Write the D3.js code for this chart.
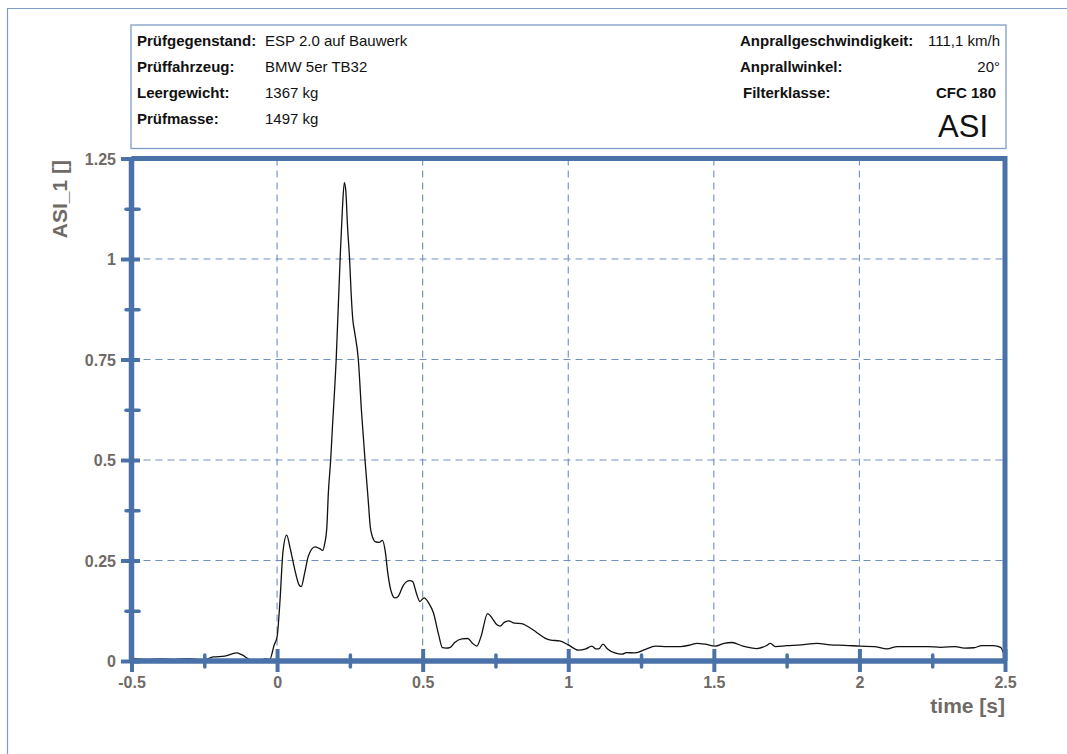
<!DOCTYPE html>
<html>
<head>
<meta charset="utf-8">
<script src="https://cdn.jsdelivr.net/npm/d3@7"></script>
<style>
  html, body { margin: 0; padding: 0; background: #fff; }
  svg { display: block; }
  text { font-family: Arial, "Liberation Sans", sans-serif; }
</style>
</head>
<body>
<script>
// ---------- data ----------
const timeS = [-0.5,-0.49,-0.45,-0.4,-0.35,-0.3,-0.27,-0.25,-0.22,-0.18,-0.14,-0.12,-0.09,-0.06,-0.04,-0.025,-0.01,0.0,0.01,0.02,0.033,0.045,0.06,0.075,0.083,0.095,0.107,0.13,0.145,0.157,0.163,0.171,0.176,0.184,0.19,0.203,0.2165,0.224,0.231,0.236,0.242,0.249,0.254,0.26,0.266,0.279,0.29,0.302,0.313,0.32,0.327,0.337,0.35,0.362,0.372,0.38,0.394,0.405,0.415,0.434,0.455,0.465,0.48,0.49,0.505,0.52,0.537,0.555,0.568,0.58,0.595,0.61,0.635,0.655,0.67,0.686,0.70,0.723,0.74,0.755,0.766,0.78,0.795,0.815,0.84,0.858,0.88,0.905,0.92,0.94,0.97,1.0,1.035,1.06,1.081,1.095,1.105,1.119,1.135,1.16,1.185,1.2,1.23,1.265,1.299,1.34,1.385,1.42,1.442,1.47,1.505,1.535,1.562,1.6,1.648,1.68,1.694,1.711,1.75,1.8,1.855,1.9,1.95,2.003,2.05,2.095,2.13,2.18,2.233,2.28,2.33,2.36,2.393,2.42,2.46,2.485,2.5];
const asiValues = [0.02,0.006,0.004,0.005,0.004,0.006,0.004,0.003,0.01,0.012,0.02,0.015,0.003,0.002,0.005,0.004,0.04,0.06,0.15,0.27,0.313,0.28,0.23,0.19,0.185,0.22,0.26,0.284,0.28,0.275,0.29,0.334,0.417,0.5,0.58,0.75,1.0,1.12,1.19,1.17,1.08,1.0,0.92,0.85,0.82,0.75,0.62,0.5,0.4,0.334,0.31,0.297,0.295,0.30,0.27,0.22,0.168,0.157,0.16,0.189,0.2,0.198,0.165,0.148,0.157,0.145,0.12,0.065,0.033,0.032,0.034,0.046,0.055,0.056,0.045,0.037,0.06,0.118,0.105,0.09,0.087,0.096,0.10,0.094,0.093,0.087,0.077,0.064,0.057,0.052,0.05,0.04,0.027,0.03,0.037,0.03,0.03,0.042,0.03,0.02,0.017,0.021,0.02,0.029,0.037,0.036,0.036,0.04,0.044,0.042,0.037,0.044,0.046,0.037,0.031,0.038,0.044,0.036,0.038,0.04,0.044,0.04,0.039,0.037,0.036,0.03,0.036,0.036,0.036,0.034,0.036,0.032,0.033,0.038,0.038,0.034,0.007];

const xMajorTicks = [-0.5, 0, 0.5, 1, 1.5, 2, 2.5];
const xMinorTicks = [-0.25, 0.25, 0.75, 1.25, 1.75, 2.25];
const yMajorTicks = [0, 0.25, 0.5, 0.75, 1, 1.25];
const yMinorTicks = [0.125, 0.375, 0.625, 0.875, 1.125];
const xTickLabels = ["-0.5", "0", "0.5", "1", "1.5", "2", "2.5"];
const yTickLabels = ["0", "0.25", "0.5", "0.75", "1", "1.25"];

const headerLeftLabels = ["Prüfgegenstand:", "Prüffahrzeug:", "Leergewicht:", "Prüfmasse:"];
const headerLeftValues = ["ESP 2.0 auf Bauwerk", "BMW 5er TB32", "1367 kg", "1497 kg"];
const headerRightLabels = ["Anprallgeschwindigkeit:", "Anprallwinkel:", "Filterklasse:"];
const headerRightValues = ["111,1 km/h", "20°", "CFC 180"];
const headerTitle = "ASI";
const xAxisTitle = "time [s]";
const yAxisTitle = "ASI_1 []";

// ---------- layout ----------
const W = 1067, H = 754;
const plot = { left: 131.5, right: 1005, top: 158.5, bottom: 661 };
const AXIS = "#4a72a8";
const GRID = "#6f8fbf";
const LABEL = "#6f6a66";

const svg = d3.select("body").append("svg").attr("width", W).attr("height", H);

// outer frame
svg.append("path").attr("d", `M7.5,${H} V8.5 H${W}`)
  .attr("fill", "none").attr("stroke", "#7f9cc6").attr("stroke-width", 1.2);

// header box
const hb = { x: 131, y: 25, w: 875, h: 123.5 };
svg.append("rect").attr("x", hb.x).attr("y", hb.y).attr("width", hb.w).attr("height", hb.h)
  .attr("fill", "none").attr("stroke", "#7f9cc6").attr("stroke-width", 1.3);

const rowsY = [46, 72, 98, 124];
const hl = svg.append("g").attr("font-size", 15).attr("fill", "#111");
headerLeftLabels.forEach((t, i) => {
  hl.append("text").attr("x", 137).attr("y", rowsY[i]).attr("font-weight", "bold").text(t);
  hl.append("text").attr("x", 265).attr("y", rowsY[i]).text(headerLeftValues[i]);
});
const rowsYR = [45.5, 71.5, 97.5];
const rightLabelX = [740, 740, 743];
headerRightLabels.forEach((t, i) => {
  hl.append("text").attr("x", rightLabelX[i]).attr("y", rowsYR[i]).attr("font-weight", "bold").text(t);
  hl.append("text").attr("x", i === 2 ? 996 : 1000).attr("y", rowsYR[i])
    .attr("text-anchor", "end").attr("font-weight", i === 2 ? "bold" : "normal").text(headerRightValues[i]);
});
svg.append("text").attr("x", 988).attr("y", 137).attr("text-anchor", "end")
  .attr("font-size", 31).attr("fill", "#111").text(headerTitle);

// scales
const x = d3.scaleLinear().domain([-0.5, 2.5]).range([plot.left, plot.right]);
const y = d3.scaleLinear().domain([0, 1.25]).range([plot.bottom, plot.top]);

// grid
const grid = svg.append("g").attr("stroke", GRID).attr("stroke-width", 1.1).attr("stroke-dasharray", "7,5");
grid.selectAll("line.gx").data(xMajorTicks.filter(d => d > -0.5 && d < 2.5)).join("line")
  .attr("x1", d => x(d)).attr("x2", d => x(d)).attr("y1", plot.top).attr("y2", plot.bottom);
grid.selectAll("line.gy").data(yMajorTicks.filter(d => d > 0 && d < 1.25)).join("line")
  .attr("class", "gy")
  .attr("x1", plot.left).attr("x2", plot.right).attr("y1", d => y(d)).attr("y2", d => y(d));

// curve
const line = d3.line().x(d => x(d[0])).y(d => y(d[1])).curve(d3.curveMonotoneX);
svg.append("path").datum(timeS.map((t, i) => [t, asiValues[i]]))
  .attr("d", line).attr("fill", "none").attr("stroke", "#111").attr("stroke-width", 1.3);

// frame (top and right borders)
svg.append("path").attr("d", `M${plot.left},${plot.top} H${plot.right} V${plot.bottom}`)
  .attr("fill", "none").attr("stroke", AXIS).attr("stroke-width", 5);

// y axis
const yAxisG = svg.append("g").attr("transform", `translate(${plot.left},0)`)
  .call(d3.axisLeft(y).tickValues(yMajorTicks).tickFormat((d, i) => yTickLabels[i]).tickSize(10).tickPadding(6));
yAxisG.select(".domain").attr("stroke", AXIS).attr("stroke-width", 5.5)
  .attr("d", `M0,${plot.top} V${plot.bottom}`);
yAxisG.selectAll(".tick line").attr("stroke", AXIS).attr("stroke-width", 4).attr("x1", 8.5).attr("x2", -10.5);
yAxisG.selectAll(".tick text").attr("fill", LABEL).attr("font-size", 16).attr("font-weight", "bold")
  .attr("font-family", 'Arial, "Liberation Sans", sans-serif').attr("x", -15.5).attr("dy", "0.36em");

const yMinorG = svg.append("g").attr("transform", `translate(${plot.left},0)`)
  .call(d3.axisLeft(y).tickValues(yMinorTicks).tickFormat("").tickSize(5));
yMinorG.select(".domain").remove();
yMinorG.selectAll(".tick line").attr("stroke", AXIS).attr("stroke-width", 3.5).attr("x1", 7.5).attr("x2", -5.5)
  .attr("stroke-linecap", "round");

// x axis
const xAxisG = svg.append("g").attr("transform", `translate(0,${plot.bottom})`)
  .call(d3.axisBottom(x).tickValues(xMajorTicks).tickFormat((d, i) => xTickLabels[i]).tickSize(11).tickPadding(4));
xAxisG.select(".domain").attr("stroke", AXIS).attr("stroke-width", 5.5)
  .attr("d", `M${plot.left},0 H${plot.right}`);
xAxisG.selectAll(".tick line").attr("stroke", AXIS).attr("stroke-width", 4).attr("y1", -12).attr("y2", 11);
xAxisG.selectAll(".tick text").attr("fill", LABEL).attr("font-size", 16).attr("font-weight", "bold")
  .attr("font-family", 'Arial, "Liberation Sans", sans-serif').attr("y", 27).attr("dy", 0);

const xMinorG = svg.append("g").attr("transform", `translate(0,${plot.bottom})`)
  .call(d3.axisBottom(x).tickValues(xMinorTicks).tickFormat("").tickSize(6));
xMinorG.select(".domain").remove();
xMinorG.selectAll(".tick line").attr("stroke", AXIS).attr("stroke-width", 3.5).attr("y1", -6).attr("y2", 6)
  .attr("stroke-linecap", "round");

// axis titles
svg.append("text").attr("x", 1005).attr("y", 713).attr("text-anchor", "end")
  .attr("font-size", 21).attr("font-weight", "bold").attr("fill", LABEL).text(xAxisTitle);
svg.append("text").attr("transform", "translate(67,160) rotate(-90)").attr("text-anchor", "end")
  .attr("font-size", 21).attr("font-weight", "bold").attr("fill", LABEL).text(yAxisTitle);
</script>
</body>
</html>
